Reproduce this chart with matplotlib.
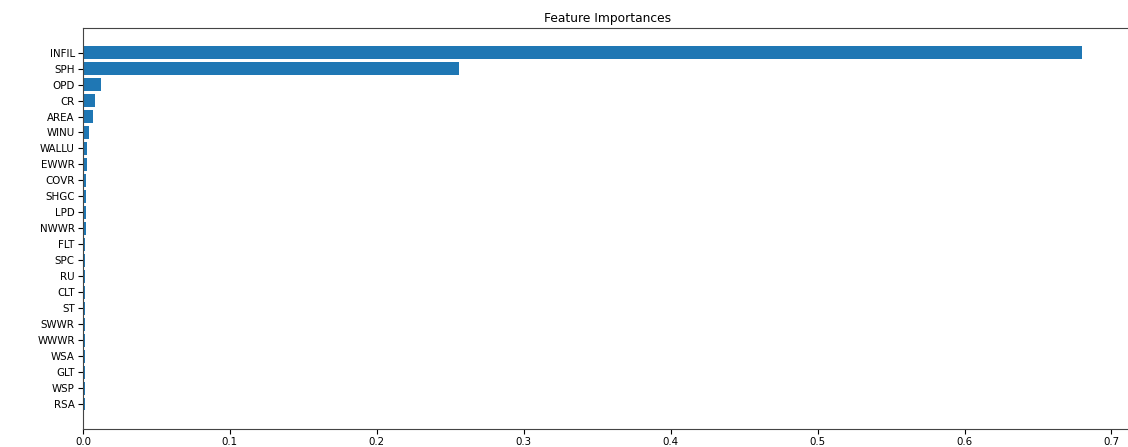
import matplotlib
matplotlib.use("Agg")
import matplotlib.pyplot as plt

features = ["INFIL", "SPH", "OPD", "CR", "AREA", "WINU", "WALLU", "EWWR", "COVR", "SHGC",
            "LPD", "NWWR", "FLT", "SPC", "RU", "CLT", "ST", "SWWR", "WWWR", "WSA", "GLT", "WSP", "RSA"]
importances = [0.680, 0.256, 0.0120, 0.0080, 0.0066, 0.0043, 0.0029, 0.0027, 0.0020, 0.0019,
               0.0019, 0.0018, 0.0017, 0.0015, 0.0014, 0.0014, 0.0014, 0.0013, 0.0013, 0.0013,
               0.0012, 0.0012, 0.0011]

# ascending order from bottom
names = features[::-1]
vals = importances[::-1]

W, H, DPI = 1128, 447, 100
fig = plt.figure(figsize=(W / DPI, H / DPI), dpi=DPI)
ax = fig.add_axes([83 / W, 1 - 428.7 / H, (1132 - 83) / W, (428.7 - 28) / H])
ax.barh(range(len(names)), vals, color="#1f77b4", height=0.8)
ax.set_yticks(range(len(names)))
ax.set_yticklabels(names)
ax.set_title("Feature Importances", fontsize=8.8, pad=4)
ax.tick_params(labelsize=7.4, length=3.5, width=0.8, pad=2.5)
for s in ax.spines.values():
    s.set_color("#444444")
fig.savefig("out.png", dpi=DPI)
